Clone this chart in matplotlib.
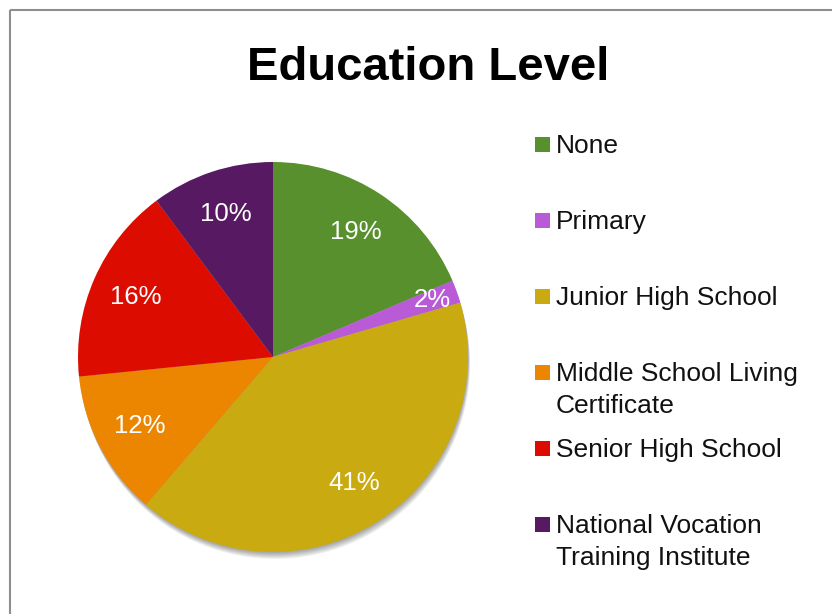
import numpy as np
import matplotlib
matplotlib.use('Agg')
import matplotlib.pyplot as plt
from matplotlib.patches import Circle, Rectangle

plt.rcParams['font.family'] = ['Liberation Sans', 'DejaVu Sans']

# data
categories = ['None', 'Primary', 'Junior High School',
              'Middle School Living\nCertificate', 'Senior High School',
              'National Vocation\nTraining Institute']
shares = [18.6, 1.9, 40.8, 12.1, 16.4, 10.2]
colors = ['#57902c', '#b95bd7', '#c9aa10', '#ec8500', '#dc0d00', '#571a62']

W, H = 832, 614
fig = plt.figure(figsize=(W / 100, H / 100), dpi=100)
ax = fig.add_axes([0, 0, 1, 1])

cx, cy, r = 273, H - 357, 195

# soft drop shadow under the pie
for d in range(1, 8):
    ax.add_patch(Circle((cx + 0.3 * d, cy - d), r, color='black',
                        alpha=0.055, lw=0, zorder=0))

wedges, texts, autotexts = ax.pie(
    shares, colors=colors, startangle=90, counterclock=False,
    center=(cx, cy), radius=r, pctdistance=0.77,
    autopct=lambda p: f'{p:.0f}%',
    wedgeprops=dict(linewidth=0),
    textprops=dict(color='white', fontsize=18.5))

# small slice label sits further out
x, y = autotexts[1].get_position()
k = 0.87 / 0.77
autotexts[1].set_position((cx + (x - cx) * k, cy + (y - cy) * k))

ax.set_xlim(0, W)
ax.set_ylim(0, H)
ax.set_aspect('auto')
ax.axis('off')

# title
ax.text(428.5, H - 80, 'Education Level', ha='center', va='baseline',
        fontsize=34, fontweight='bold', color='black')

# legend
em = 19 * 100 / 72
for i, (lab, col) in enumerate(zip(categories, colors)):
    yc = 144 + 76 * i
    ax.add_patch(Rectangle((535, H - yc - 7.5), 15, 15, color=col, lw=0))
    for j, line in enumerate(lab.split('\n')):
        ax.text(556, H - (yc + 32 * j + 0.358 * em), line, ha='left',
                va='baseline', fontsize=19, color='#111111')

# frame border
ax.plot([10, 10], [0, H - 10], color='#8e8e8e', lw=1.5, solid_capstyle='butt')
ax.plot([10, W], [H - 10, H - 10], color='#8e8e8e', lw=1.5, solid_capstyle='butt')

fig.savefig('out.png', dpi=100)
